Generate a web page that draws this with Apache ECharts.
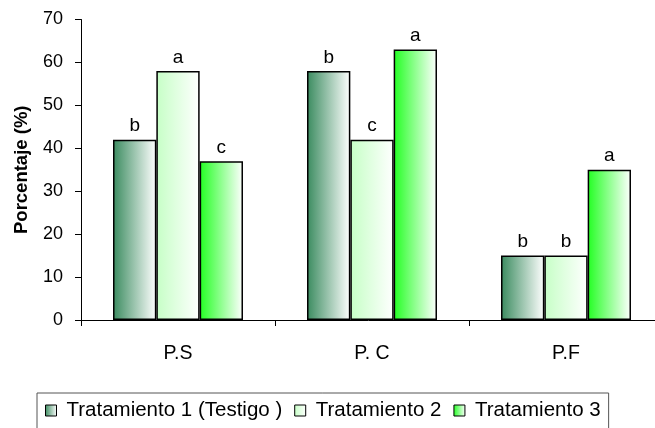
<!DOCTYPE html>
<html>
<head>
<meta charset="utf-8">
<script src="https://cdn.jsdelivr.net/npm/echarts@6/dist/echarts.min.js"></script>
<style>
  html, body { margin: 0; padding: 0; background: #fff; }
  #chart { width: 655px; height: 428px; }
</style>
</head>
<body>
<div id="chart"></div>
<script>
// Parcelas evaluadas y porcentaje por tratamiento
const categories = ['P.S', 'P. C', 'P.F'];
const seriesNames = ['Tratamiento 1 (Testigo )', 'Tratamiento 2', 'Tratamiento 3'];
const tratamiento1 = [42, 58, 15];
const tratamiento2 = [58, 42, 15];
const tratamiento3 = [37, 63, 35];
// Letras de significancia sobre cada barra
const letras1 = ['b', 'b', 'b'];
const letras2 = ['a', 'c', 'b'];
const letras3 = ['c', 'a', 'a'];
const yTicks = { min: 0, max: 70, step: 10 };

const FONT = '"Liberation Sans", Arial, sans-serif';

function grad(from, to) {
  return new echarts.graphic.LinearGradient(0, 0, 1, 0, [
    { offset: 0, color: from },
    { offset: 1, color: to }
  ]);
}

function barSeries(name, values, letters, fill) {
  return {
    name: name,
    type: 'bar',
    barGap: '0%',
    barCategoryGap: '33%',
    data: values,
    itemStyle: { color: fill, borderColor: '#000', borderWidth: 1.5 },
    label: {
      show: true,
      position: 'top',
      distance: 4,
      color: '#000',
      fontFamily: FONT,
      fontSize: 19,
      formatter: p => letters[p.dataIndex]
    }
  };
}

const chart = echarts.init(document.getElementById('chart'), null, { renderer: 'canvas' });
chart.setOption({
  backgroundColor: '#fff',
  animation: false,
  // the last category runs slightly past the right edge of the canvas
  grid: { left: 81, width: 582, top: 19.5, bottom: 108, containLabel: false, outerBoundsMode: 'none' },
  legend: {
    left: 37,
    top: 393,
    orient: 'horizontal',
    icon: 'rect',
    itemWidth: 11,
    itemHeight: 11,
    itemGap: 12,
    borderColor: '#555',
    borderWidth: 1,
    borderRadius: 0,
    padding: [7, 8, 30, 8],
    itemStyle: { borderColor: '#000', borderWidth: 1 },
    textStyle: { color: '#000', fontFamily: FONT, fontSize: 20.5, padding: [0, 0, 0, 5] },
    data: seriesNames
  },
  xAxis: {
    type: 'category',
    data: categories,
    axisLine: { lineStyle: { color: '#000', width: 1 } },
    axisTick: { show: true, length: 6, lineStyle: { color: '#000' } },
    axisLabel: { color: '#000', fontFamily: FONT, fontSize: 19.5, margin: 24 }
  },
  yAxis: {
    type: 'value',
    min: yTicks.min,
    max: yTicks.max,
    interval: yTicks.step,
    name: 'Porcentaje (%)',
    nameLocation: 'middle',
    nameRotate: 90,
    nameGap: 50,
    nameTextStyle: { color: '#000', fontFamily: FONT, fontSize: 18.5, fontWeight: 'bold' },
    axisLine: { show: true, lineStyle: { color: '#000', width: 1 } },
    axisTick: { show: true, length: 6, lineStyle: { color: '#000' } },
    axisLabel: { color: '#000', fontFamily: FONT, fontSize: 18, margin: 18 },
    splitLine: { show: false }
  },
  series: [
    barSeries(seriesNames[0], tratamiento1, letras1, grad('#3a8b5f', '#ffffff')),
    barSeries(seriesNames[1], tratamiento2, letras2, grad('#c6ffc6', '#ffffff')),
    barSeries(seriesNames[2], tratamiento3, letras3, grad('#22ff22', '#ffffff'))
  ]
});
</script>
</body>
</html>
